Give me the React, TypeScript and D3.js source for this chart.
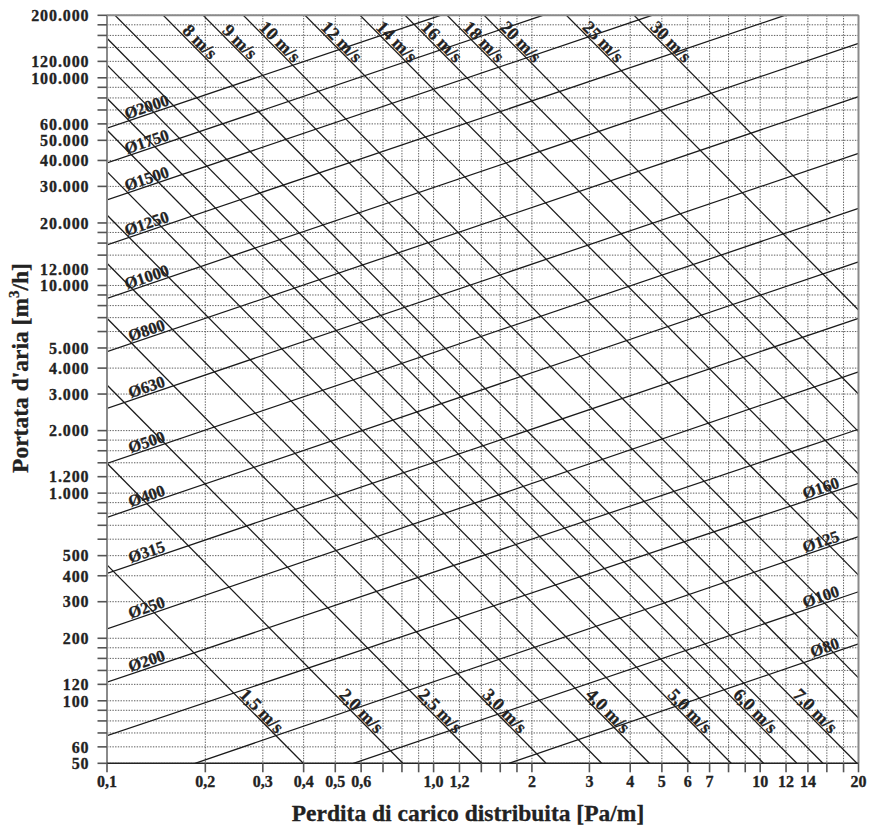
import React from 'react';
import * as d3 from 'd3';

// Nomogram: distributed pressure loss vs air flow, circular ducts (log-log)

const W = 871;
const H = 825;
const FONT = "'Liberation Serif', 'Times New Roman', Times, serif";

const xTicks = [0.1, 0.2, 0.3, 0.4, 0.5, 0.6, 0.7, 0.8, 0.9, 1, 1.2, 1.4, 1.6, 1.8, 2, 3, 4, 5, 6, 7, 8, 9, 10, 12, 14, 16, 18, 20];
const xLabels = [0.1, 0.2, 0.3, 0.4, 0.5, 0.6, 1, 1.2, 2, 3, 4, 5, 6, 7, 10, 12, 14, 20];
const xLabelText = ['0,1', '0,2', '0,3', '0,4', '0,5', '0,6', '1,0', '1,2', '2', '3', '4', '5', '6', '7', '10', '12', '14', '20'];

const yTicks = [
  50, 60, 70, 80, 90, 100, 120, 140, 160, 180, 200, 300, 400, 500, 600, 700, 800, 900,
  1000, 1200, 1400, 1600, 1800, 2000, 3000, 4000, 5000, 6000, 7000, 8000, 9000,
  10000, 12000, 14000, 16000, 18000, 20000, 30000, 40000, 50000, 60000, 70000, 80000, 90000,
  100000, 120000, 140000, 160000, 180000, 200000,
];
const yLabels = [50, 60, 100, 120, 200, 300, 400, 500, 1000, 1200, 2000, 3000, 4000, 5000, 10000, 12000, 20000, 30000, 40000, 50000, 60000, 100000, 120000, 200000];

// diameter lines [mm], endpoints as [Pa/m, m3/h]
const diameters = [80, 100, 125, 160, 200, 250, 315, 400, 500, 630, 800, 1000, 1250, 1500, 1750, 2000];
const diameterFrom: [number, number][] = [
  [1.7, 50], [0.568, 50], [0.186, 50], [0.1, 68], [0.1, 123], [0.1, 222], [0.1, 411], [0.1, 765],
  [0.1, 1390], [0.1, 2560], [0.1, 4800], [0.1, 8670], [0.1, 15700], [0.1, 25800], [0.1, 38900], [0.1, 57200],
];
const diameterTo: [number, number][] = [
  [20, 188], [20, 335], [20, 617], [20, 1115], [20, 2030], [20, 3840], [20, 6950], [20, 13000],
  [20, 23500], [20, 43300], [20, 81100], [20, 146600], [11.9, 200000], [4.66, 200000], [2.16, 200000], [1.05, 200000],
];
const diameterLabelRight = [80, 100, 125, 160];

// velocity lines [m/s]
const velocities = [1.5, 2, 2.5, 3, 3.5, 4, 4.5, 5, 5.5, 6, 6.5, 7, 8, 9, 10, 12, 14, 16, 18, 20, 25, 30];
const velocityFrom: [number, number][] = [
  [0.1, 451], [0.1, 1393], [0.1, 3317], [0.1, 6950], [0.1, 12790], [0.1, 21840], [0.1, 35300], [0.1, 56050],
  [0.1, 79700], [0.1, 115300], [0.1, 155000], [0.1058, 200000], [0.1487, 200000], [0.197, 200000], [0.2615, 200000],
  [0.404, 200000], [0.5955, 200000], [0.818, 200000], [1.1, 200000], [1.428, 200000], [2.55, 200000], [4.11, 200000],
];
const velocityTo: [number, number][] = [
  [0.399, 50], [0.805, 50], [1.405, 50], [2.21, 50], [3.27, 50], [4.58, 50], [6.13, 50], [8.15, 50],
  [10.24, 50], [12.95, 50], [15.56, 50], [19.78, 50], [20, 82.6], [20, 129], [20, 202],
  [20, 403], [20, 747], [20, 1236], [20, 1978], [20, 3000], [20, 7620], [16.4, 22260],
];
const velocityLabelBottom = [1.5, 2, 2.5, 3, 4, 5, 6, 7];
const velocityLabelTop = [8, 9, 10, 12, 14, 16, 18, 20, 25, 30];

const x = d3.scaleLog().domain([0.1, 20]).range([107, 858.5]);
const y = d3.scaleLog().domain([50, 200000]).range([763.3, 15.3]);

const fmtThousands = (v: number) => d3.format(',')(v).replace(/,/g, '.');

type P = [number, number];
const px = (p: P): P => [x(p[0]), y(p[1])];
const atX = (a: P, b: P, xx: number): P => [xx, a[1] + ((xx - a[0]) / (b[0] - a[0])) * (b[1] - a[1])];
const atY = (a: P, b: P, yy: number): P => [a[0] + ((yy - a[1]) / (b[1] - a[1])) * (b[0] - a[0]), yy];
const angle = (a: P, b: P) => (Math.atan2(b[1] - a[1], b[0] - a[0]) * 180) / Math.PI;

export default function App() {
  const [x0, x1] = x.range();
  const [y0, y1] = y.range();
  const line = d3.line();

  return (
    <div style={{ position: 'absolute', left: 0, top: 0 }}>
      <svg width={W} height={H} fontFamily={FONT} fontWeight="bold">
        <rect width={W} height={H} fill="#fff" />
        <defs>
          <clipPath id="plot">
            <rect x={x0} y={y1} width={x1 - x0} height={y0 - y1} />
          </clipPath>
        </defs>

        {/* grid */}
        <g stroke="#5e5e5e" strokeWidth={1} strokeDasharray="1.4 1.3">
          {yTicks.map(t => (
            <line key={`gy${t}`} x1={x0} x2={x1} y1={y(t)} y2={y(t)} />
          ))}
          {xTicks.map(t => (
            <line key={`gx${t}`} x1={x(t)} x2={x(t)} y1={y1} y2={y0} />
          ))}
        </g>

        {/* diameter + velocity lines */}
        <g clipPath="url(#plot)" stroke="#1a1a1a" strokeWidth={1.25} fill="none">
          {diameters.map((d, i) => (
            <path key={`d${d}`} d={line([px(diameterFrom[i]), px(diameterTo[i])]) ?? undefined} />
          ))}
          {velocities.map((v, i) => (
            <path key={`v${v}`} d={line([px(velocityFrom[i]), px(velocityTo[i])]) ?? undefined} />
          ))}
        </g>

        {/* frame */}
        <g fill="none">
          <line x1={x0} x2={x1} y1={y1} y2={y1} stroke="#8a8a8a" strokeWidth={2} />
          <line x1={x1} x2={x1} y1={y1} y2={y0} stroke="#8a8a8a" strokeWidth={2} />
          <line x1={x0} x2={x0} y1={y1} y2={y0} stroke="#8a8a8a" strokeWidth={2} />
          <line x1={x0} x2={x1} y1={y0} y2={y0} stroke="#222" strokeWidth={1.6} />
        </g>

        {/* y axis */}
        <g stroke="#555" strokeWidth={1.6}>
          {yTicks.map(t => (
            <line key={`ty${t}`} x1={x0 - 9.5} x2={x0} y1={y(t)} y2={y(t)} />
          ))}
        </g>
        <g fontSize={16} textAnchor="end" fill="#222" stroke="#222" strokeWidth={0.3} letterSpacing={0.9}>
          {yLabels.map(t => (
            <text key={`ly${t}`} x={89.5} y={y(t)} dy="0.36em">
              {fmtThousands(t)}
            </text>
          ))}
        </g>

        {/* x axis */}
        <g stroke="#555" strokeWidth={1.6}>
          {xTicks.map(t => (
            <line key={`tx${t}`} x1={x(t)} x2={x(t)} y1={y0} y2={y0 + 9} />
          ))}
        </g>
        <g fontSize={16} textAnchor="middle" fill="#222" stroke="#222" strokeWidth={0.3}>
          {xLabels.map((t, i) => (
            <text key={`lx${t}`} x={x(t)} y={786.7}>
              {xLabelText[i]}
            </text>
          ))}
        </g>

        {/* diameter labels */}
        <g fontSize={16.5} fill="#222" stroke="#222" strokeWidth={0.3}>
          {diameters.map((d, i) => {
            const a = px(diameterFrom[i]);
            const b = px(diameterTo[i]);
            const right = diameterLabelRight.includes(d);
            const p = atX(a, b, right ? 841 : 149);
            return (
              <text
                key={`ld${d}`}
                transform={`translate(${p[0]},${p[1]}) rotate(${angle(a, b)})`}
                textAnchor={right ? 'end' : 'middle'}
                dy={-2}
              >
                {`Ø${d}`}
              </text>
            );
          })}
        </g>

        {/* velocity labels */}
        <g fontSize={18} fill="#222" stroke="#222" strokeWidth={0.3} textAnchor="middle">
          {velocities.map((v, i) => {
            const bottom = velocityLabelBottom.includes(v);
            const top = velocityLabelTop.includes(v);
            if (!bottom && !top) return null;
            const a = px(velocityFrom[i]);
            const b = px(velocityTo[i]);
            const p = atY(a, b, bottom ? 716 : 47);
            return (
              <text
                key={`lv${v}`}
                transform={`translate(${p[0]},${p[1]}) rotate(${angle(a, b)})`}
                dy={-1.5}
              >
                {bottom ? `${v.toFixed(1).replace('.', ',')} m/s` : `${v} m/s`}
              </text>
            );
          })}
        </g>

        {/* axis titles */}
        <text x={468} y={820.5} fontSize={23.5} textAnchor="middle" fill="#222" stroke="#222" strokeWidth={0.3}>
          Perdita di carico distribuita [Pa/m]
        </text>
        <text
          transform="translate(28,368) rotate(-90)"
          fontSize={23.5}
          textAnchor="middle"
          fill="#222"
          stroke="#222"
          strokeWidth={0.3}
        >
          Portata d'aria [m<tspan fontSize={15} dy={-9}>3</tspan><tspan dy={9}>/h]</tspan>
        </text>
      </svg>
    </div>
  );
}
